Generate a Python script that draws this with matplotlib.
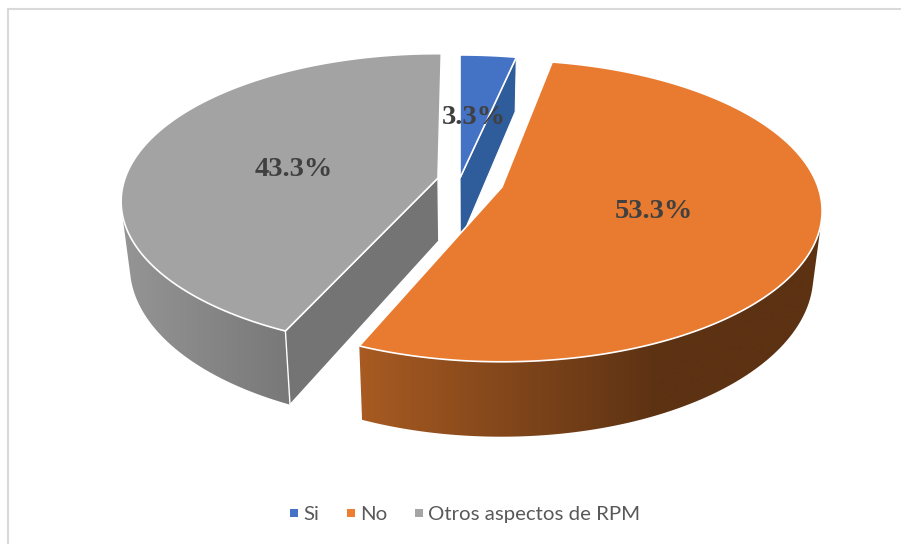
"""Exploded 3D style pie chart of the RPM survey answers."""

import matplotlib

matplotlib.use("Agg")

import matplotlib.pyplot as plt
import numpy as np
from matplotlib.colors import LinearSegmentedColormap
from matplotlib.lines import Line2D
from matplotlib.patches import Polygon

labels = ["Si", "No", "Otros aspectos de RPM"]
values = [3.3, 53.3, 43.3]
value_labels = ["3.3%", "53.3%", "43.3%"]

top_colors = ["#4472C4", "#E97B30", "#A3A3A3"]
legend_colors = ["#4472C4", "#ED7D31", "#A5A5A5"]

# pie apex of every slice on the picture, in pixels
apex = [(460, 178), (502, 187), (438, 178)]
label_pos = [(474, 117), (654, 212), (293.5, 169)]

# small per slice corrections for the perspective of the original
nudge_deg = [0.0, -1.3, 0.7]
scale_x = [1.0, 1.0, 0.99]
scale_y = [0.97, 1.0, 0.98]

# perspective of the tilted disc
A, B, K = 316, 147, 0.159
DEPTH = 63
X_MID = 470
SHRINK = 0.975


def slice_arc(index, start, end):
    """Rim of one slice in pixels, from clockwise angles."""
    theta = np.linspace(start, end, 300) + np.radians(nudge_deg[index])
    u = np.sin(theta)
    v = np.cos(theta)
    w = 1 + K * v
    x = apex[index][0] + scale_x[index] * A * u / w
    y = apex[index][1] - scale_y[index] * B * v / w
    return x, y, w


def lower(x, y, w):
    """Same points on the bottom face of the pie."""
    return X_MID + (x - X_MID) * SHRINK, y + DEPTH / w


def front_wall(x, y, bx, by, near_index):
    """Outline of the outer wall, only the part facing the viewer."""
    cross = np.gradient(x) * (by - y) - np.gradient(y) * (bx - x)
    keep = np.sign(cross) == np.sign(cross[near_index])
    return np.r_[np.c_[x[keep], y[keep]], np.c_[bx[keep], by[keep]][::-1]]


def gradient_poly(ax, points, c_left, c_right, x_left, x_right, zorder):
    cmap = LinearSegmentedColormap.from_list("wall", [c_left, c_right])
    xs = np.arange(0, 902)
    ramp = np.clip((xs - x_left) / (x_right - x_left), 0, 1)
    im = ax.imshow(
        ramp.reshape(1, -1),
        cmap=cmap,
        vmin=0,
        vmax=1,
        extent=(0, 901, 544, 0),
        aspect="auto",
        zorder=zorder,
    )
    patch = Polygon(points, closed=True, facecolor="none", edgecolor="none", zorder=zorder + 0.1)
    ax.add_patch(patch)
    im.set_clip_path(patch)


def top_face(ax, x, y, index, zorder):
    ax.add_patch(
        Polygon(
            np.r_[np.c_[x, y], [apex[index]]],
            closed=True,
            facecolor=top_colors[index],
            edgecolor="white",
            lw=1.2,
            zorder=zorder,
        )
    )


fig = plt.figure(figsize=(9.01, 5.44), dpi=100)
ax = fig.add_axes([0, 0, 1, 1])

bounds = np.cumsum([0] + values) / sum(values) * 2 * np.pi

# grey slice
x, y, w = slice_arc(2, bounds[2], bounds[3])
bx, by = lower(x, y, w)
gradient_poly(ax, front_wall(x, y, bx, by, 0), "#959595", "#787878", 122, 290, 2)
abx, aby = lower(apex[2][0], apex[2][1], 1.0)
ax.add_patch(
    Polygon(
        [(x[0], y[0]), apex[2], (abx, aby), (bx[0], by[0])],
        closed=True,
        facecolor="#747474",
        edgecolor="white",
        lw=1.0,
        zorder=3,
    )
)
top_face(ax, x, y, 2, 4)

# blue slice
x, y, w = slice_arc(0, bounds[0], bounds[1])
bx, by = lower(x[-1], y[-1], w[-1])
abx, aby = lower(apex[0][0], apex[0][1], 1.0)
ax.add_patch(
    Polygon(
        [(x[-1], y[-1]), apex[0], (abx, aby), (bx, by)],
        closed=True,
        facecolor="#2F5C9A",
        edgecolor="white",
        lw=0.8,
        zorder=5,
    )
)
top_face(ax, x, y, 0, 6)

# orange slice
x, y, w = slice_arc(1, bounds[1], bounds[2])
bx, by = lower(x, y, w)
gradient_poly(ax, front_wall(x, y, bx, by, -1), "#A85B22", "#5C3213", 358, 660, 7)
top_face(ax, x, y, 1, 8)

for pos, text in zip(label_pos, value_labels):
    ax.text(
        pos[0],
        pos[1],
        text,
        ha="center",
        va="center",
        fontsize=20.5,
        fontweight="bold",
        family="Liberation Serif",
        color="#404040",
        zorder=10,
    )

# chart border, only the top and left lines are left in the picture
ax.plot([8, 8, 901], [544, 9, 9], color="#D9D9D9", lw=1.5, solid_joinstyle="miter", zorder=1)

handles = [
    Line2D([], [], linestyle="none", marker="s", markersize=5.2, markeredgewidth=0, color=c)
    for c in legend_colors
]
ax.legend(
    handles,
    labels,
    ncol=3,
    loc="center",
    bbox_to_anchor=(465.5 / 901, 1 - 514.5 / 544),
    frameon=False,
    labelcolor="#595959",
    handlelength=0.4,
    handletextpad=0.25,
    columnspacing=1.35,
    prop={"family": "Lato", "size": 14.7},
)

ax.set_xlim(0, 901)
ax.set_ylim(544, 0)
ax.axis("off")

fig.savefig("out.png", dpi=100)
